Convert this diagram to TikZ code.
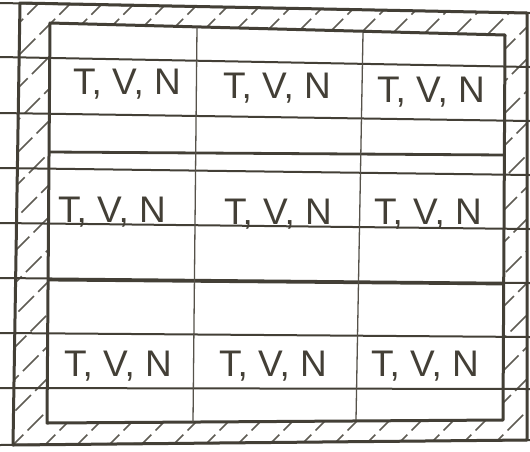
\documentclass[tikz,border=0pt]{standalone}
\usepackage{fontspec}
\setsansfont{Liberation Sans}
\usetikzlibrary{positioning}
\definecolor{SketchInk}{HTML}{433F36}
\definecolor{SketchPaper}{HTML}{FFFFFF}

\begin{document}
\begin{tikzpicture}[
  x=1pt,
  y=-1pt,
  wall/.style={draw=SketchInk, line width=3pt, line join=round},
  ruled/.style={draw=SketchInk, line width=2pt},
  rowline/.style={draw=SketchInk, line width=2.8pt},
  colline/.style={draw=SketchInk!90, line width=1.3pt},
  hatch/.style={draw=SketchInk!85, line width=1.6pt, dash pattern=on 22pt off 6pt},
  cell/.style={font=\sffamily\fontsize{37}{40}\selectfont, text=SketchInk, inner sep=0pt}
]
\useasboundingbox (0,0) rectangle (530,451);
\clip (0,0) rectangle (530,451);
\fill[SketchPaper] (0,0) rectangle (530,451);

% corners of the wall
\coordinate (outerTL) at (20,3);
\coordinate (outerTR) at (527,13);
\coordinate (outerBR) at (527,440);
\coordinate (outerBL) at (13,445);
\coordinate (innerTL) at (50,23);
\coordinate (innerTR) at (505,35);
\coordinate (innerBR) at (503,420);
\coordinate (innerBL) at (47,423);

% hatching inside the wall
\begin{scope}[even odd rule]
  \clip (outerTL) -- (outerTR) -- (outerBR) -- (outerBL) -- cycle
    (innerTL) -- (innerTR) -- (innerBR) -- (innerBL) -- cycle;
  \foreach \k in {-460,-428,...,540}
    \draw[hatch] (\k,470) -- ++(480,-480);
\end{scope}

% ruled lines of the sheet
\draw[ruled] (0,3) -- (530,13);
\draw[ruled] (0,57) -- (530,67);
\draw[ruled] (0,113) -- (530,121);
\draw[ruled] (0,168) -- (530,175);
\draw[ruled] (0,223) -- (530,229);
\draw[ruled] (0,278) -- (530,283);
\draw[ruled] (0,333) -- (530,337);
\draw[ruled] (0,388) -- (530,389);
\draw[ruled] (0,445) -- (530,440);

% wall outlines
\draw[wall] (outerTL) -- (outerTR) -- (outerBR) -- (outerBL) -- cycle;
\draw[wall] (innerTL) -- (innerTR) -- (innerBR) -- (innerBL) -- cycle;

% cell grid
\draw[rowline] (50,152) -- (505,155);
\draw[rowline] (48,280) -- (504,284);
\draw[colline] (197,27) -- (193,422);
\draw[colline] (363,33) -- (356,420);

\node[cell] (c11) at (127,84) {T, V, N};
\node[cell] (c12) at (277,88) {T, V, N};
\node[cell] (c13) at (431,92) {T, V, N};
\node[cell] (c21) at (112,212) {T, V, N};
\node[cell] (c22) at (278,214) {T, V, N};
\node[cell] (c23) at (428,214) {T, V, N};
\node[cell] (c31) at (118,366) {T, V, N};
\node[cell] (c32) at (273,366) {T, V, N};
\node[cell] (c33) at (425,366) {T, V, N};
\end{tikzpicture}
\end{document}
